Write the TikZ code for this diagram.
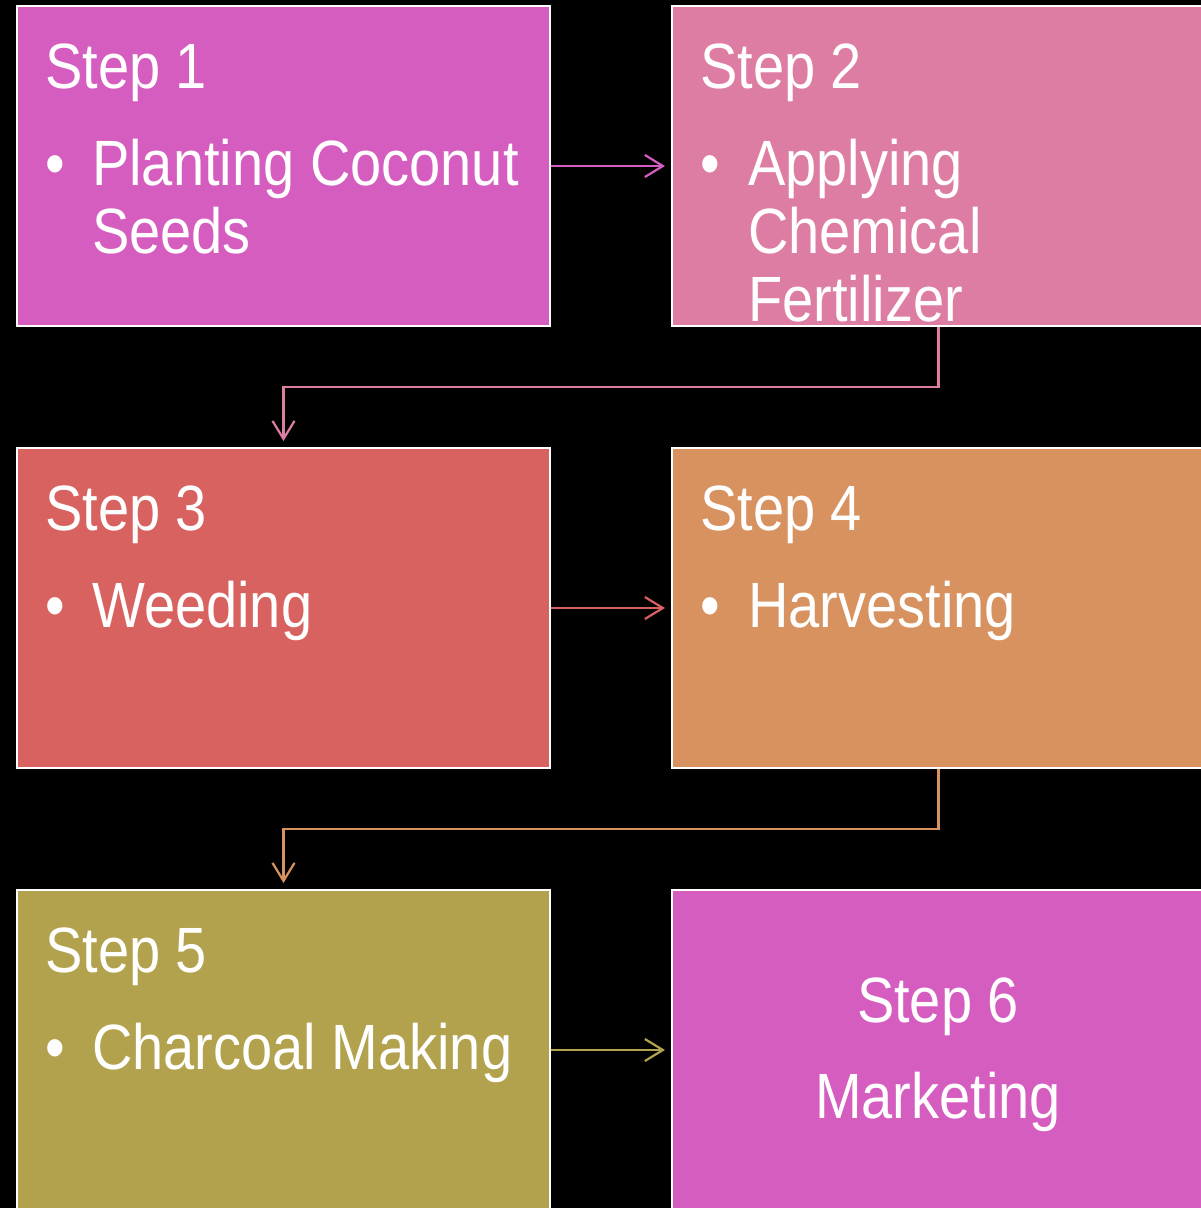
\documentclass[tikz,border=0pt]{standalone}
\usepackage{fontspec}
\setmainfont{Liberation Sans}[FakeStretch=0.875]
\usetikzlibrary{arrows.meta}
\definecolor{cMag}{HTML}{D65DC0}
\definecolor{cPink}{HTML}{DE7DA3}
\definecolor{cRed}{HTML}{D8625F}
\definecolor{cOrange}{HTML}{D8925F}
\definecolor{cOlive}{HTML}{B2A24E}
\tikzset{
  stepbox/.style={draw=white, line width=2pt, rectangle, anchor=north west,
    minimum width=533pt, minimum height=320pt, inner sep=0pt},
  txt/.style={text=white, inner sep=0pt, anchor=base west, align=left,
    font=\fontsize{64}{68}\selectfont},
  conn/.style={line width=2.2pt, shorten >=6pt,
    -{Straight Barb[length=18pt,width=22pt,line width=2.2pt]}},
}
\begin{document}
\begin{tikzpicture}[x=1pt,y=-1pt]
\fill[black] (0,0) rectangle (1201,1208);
\useasboundingbox (0,0) rectangle (1201,1208);
\clip (0,0) rectangle (1201,1208);
% boxes
\node[stepbox, fill=cMag]    (b1) at (16,5) {};
\node[stepbox, fill=cPink]   (b2) at (671,5) {};
\node[stepbox, fill=cRed]    (b3) at (16,447) {};
\node[stepbox, fill=cOrange] (b4) at (671,447) {};
\node[stepbox, fill=cOlive]  (b5) at (16,889) {};
\node[stepbox, fill=cMag]    (b6) at (671,889) {};
% texts (multi-line nodes: base = baseline of the last line)
\node[txt] (t1) at (45,88) {Step 1};
\node[txt] (u1) at (45,185) {•};
\node[txt] (v1) at (92,253) {Planting Coconut\\Seeds};
\node[txt] (t2) at (700,88) {Step 2};
\node[txt] (u2) at (700,185) {•};
\node[txt] (v2) at (748,321) {Applying\\Chemical\\Fertilizer};
\node[txt] (t3) at (45,530) {Step 3};
\node[txt] (u3) at (45,627) {•};
\node[txt] (v3) at (92,627) {Weeding};
\node[txt] (t4) at (700,530) {Step 4};
\node[txt] (u4) at (700,627) {•};
\node[txt] (v4) at (748,627) {Harvesting};
\node[txt] (t5) at (45,972) {Step 5};
\node[txt] (u5) at (45,1069) {•};
\node[txt] (v5) at (92,1069) {Charcoal Making};
\node[txt, anchor=base] (t6) at (938,1022) {Step 6};
\node[txt, anchor=base] (v6) at (938,1118) {Marketing};
% connectors
\draw[conn, cMag] (b1.east) -- (b1.east -| b2.west);
\draw[conn, cPink] (b2.south) -- ++(0,60) -| (b3.north);
\draw[conn, cRed] (b3.east) -- (b3.east -| b4.west);
\draw[conn, cOrange] (b4.south) -- ++(0,60) -| (b5.north);
\draw[conn, cOlive] (b5.east) -- (b5.east -| b6.west);
\end{tikzpicture}
\end{document}
